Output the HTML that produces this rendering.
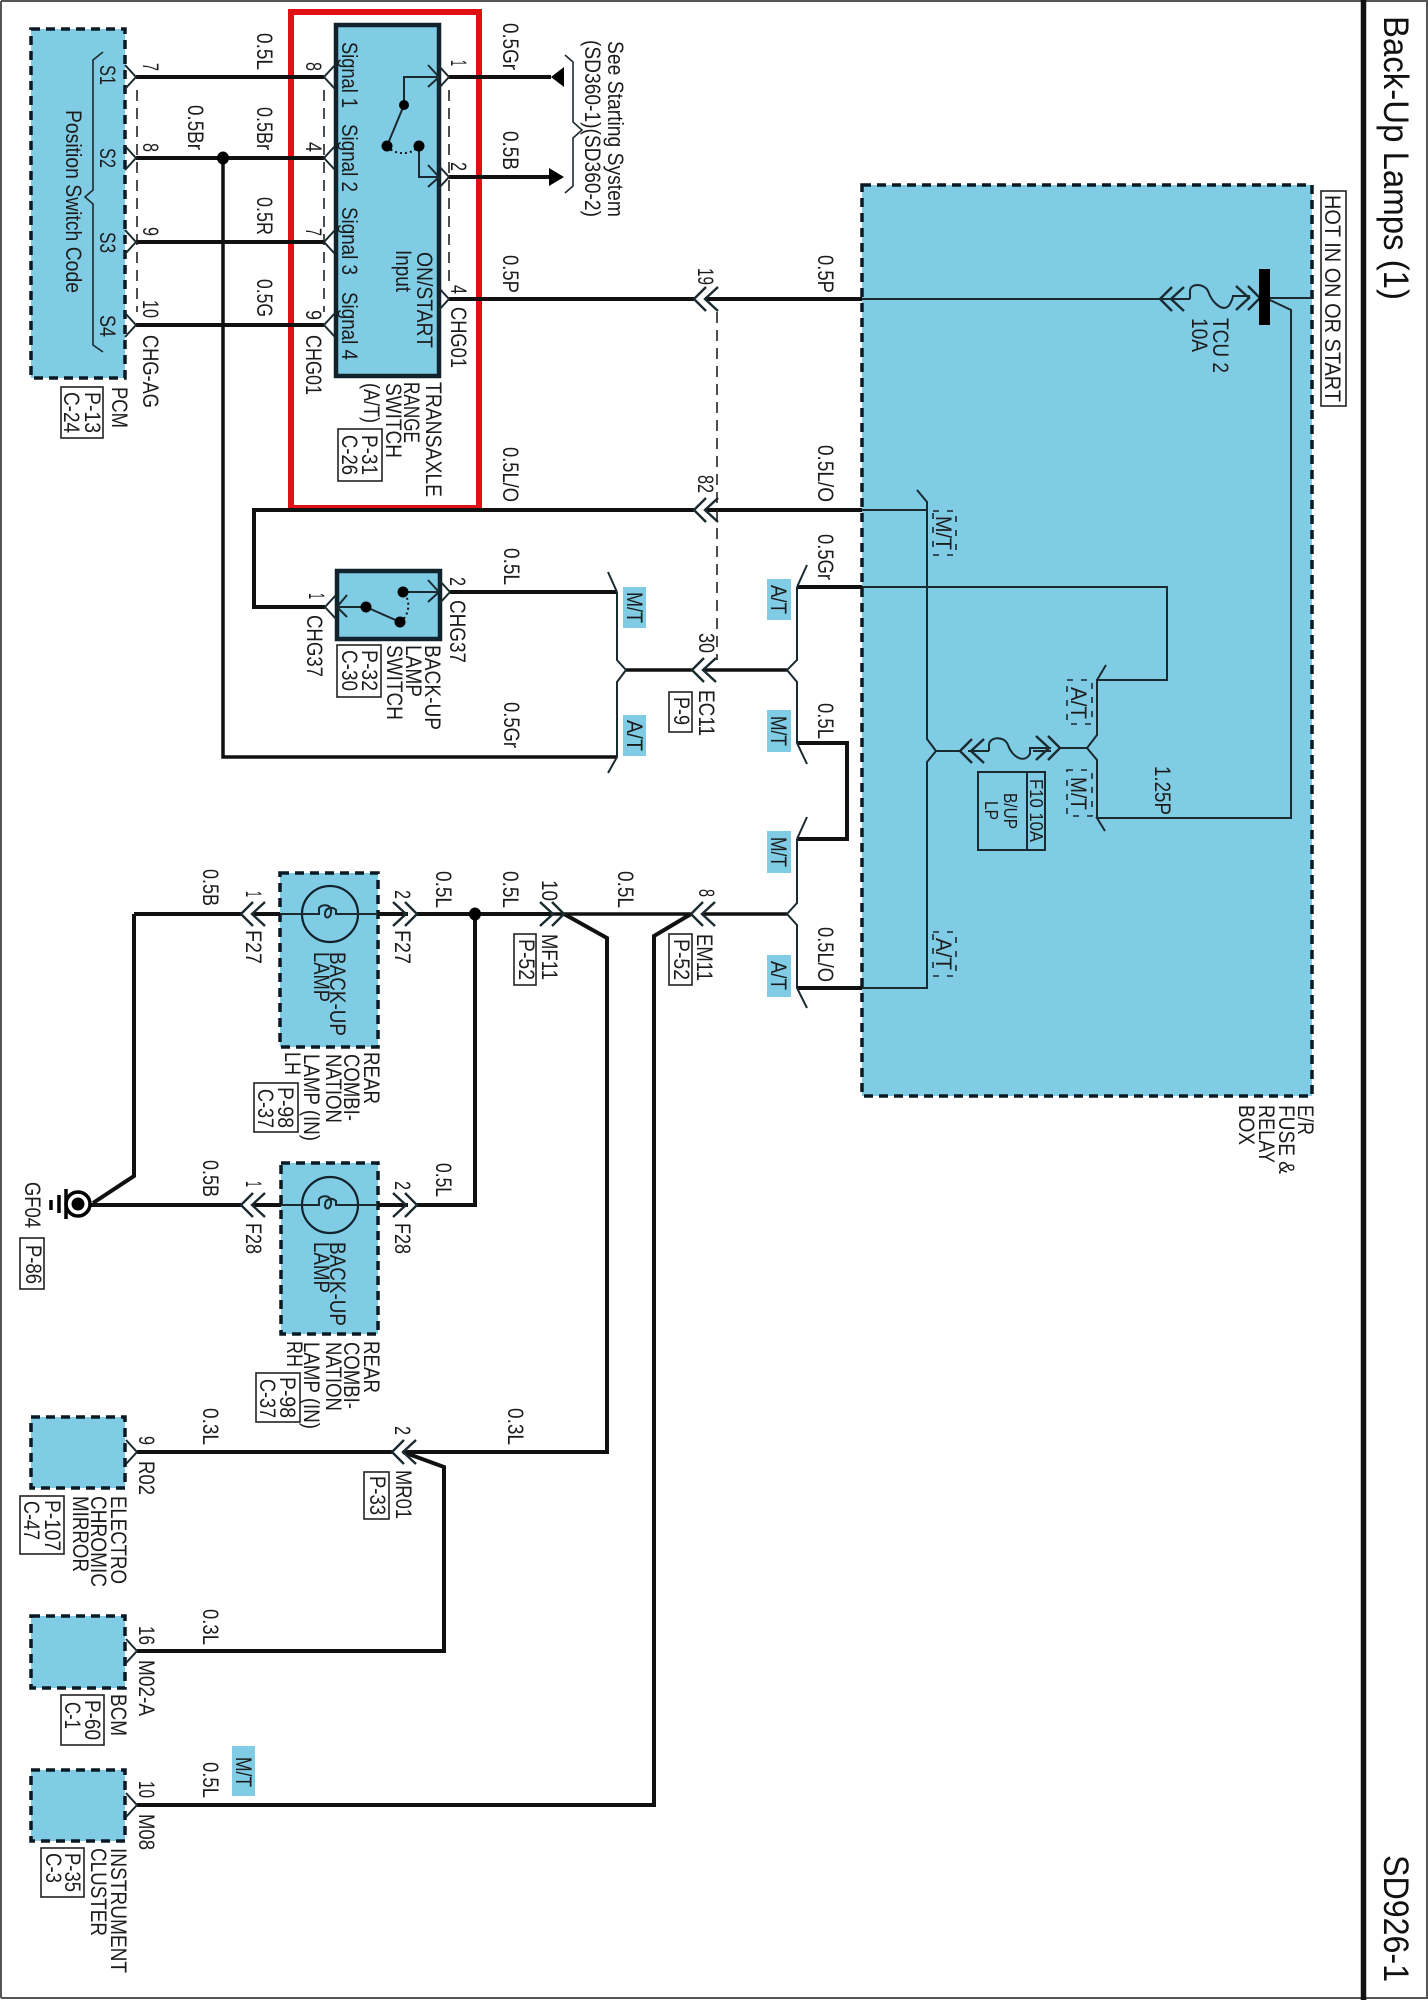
<!DOCTYPE html>
<html><head><meta charset="utf-8"><title>Back-Up Lamps (1)</title>
<style>html,body{margin:0;padding:0;background:#fff}svg{display:block}
text{font-family:"Liberation Sans",sans-serif;font-size:22px;fill:#1c1c1c}
.t{font-size:35px;fill:#111}
.b{fill:#80cce4;stroke:#0a1a24;stroke-width:3.5;stroke-dasharray:9 6}
.s{fill:#80cce4;stroke:#10222c;stroke-width:4.5}
.w{fill:none;stroke:#111;stroke-width:4;stroke-linejoin:miter}
.n{fill:none;stroke:#1a2a30;stroke-width:2}
.d{fill:none;stroke:#222;stroke-width:1.6;stroke-dasharray:11 7}
.r{fill:#fff;stroke:#222;stroke-width:1.6}
.l{fill:#80cce4}
.q{fill:none;stroke:#1a2a30;stroke-width:1.6;stroke-dasharray:6 8}
</style></head><body>
<svg xmlns="http://www.w3.org/2000/svg" width="1428" height="2000" viewBox="0 0 1428 2000">
<defs>
<path id="dl" class="n" style="stroke-width:2.4" d="M12-12L0 0L12 12M24-12L11 0L24 12"/>
<path id="dr" class="n" style="stroke-width:2.4" d="M-12-12L0 0L-12 12M-24-12L-11 0L-24 12"/>
<path id="cr" class="n" d="M-11-12L0 0L-11 12"/>
<path id="cl" class="n" d="M11-12L0 0L11 12"/>
</defs>
<rect width="1428" height="2000" fill="#fff"/>
<path d="M1 1H1427V1998H1" fill="none" stroke="#555" stroke-width="2"/><path d="M1 1V1998" stroke="#555" stroke-width="2"/>
<path d="M1363.500 0V2000" stroke="#111" stroke-width="5.500"/>

<!-- boxes -->
<rect class="b" x="862" y="185" width="450" height="911"/>
<rect class="b" x="31" y="29" width="94" height="349"/>
<rect class="b" x="280" y="873" width="98" height="174"/>
<rect class="b" x="281" y="1163" width="97" height="171"/>
<rect class="b" x="31" y="1417" width="94" height="71"/>
<rect class="b" x="31" y="1616" width="94" height="72"/>
<rect class="b" x="31" y="1770" width="94" height="71"/>
<rect class="s" x="336" y="25" width="103" height="351"/>
<rect class="s" x="337" y="571" width="103" height="68"/>
<rect x="291" y="12" width="188" height="496" fill="none" stroke="#e01015" stroke-width="6"/>

<!-- blue tags -->
<rect class="l" x="623" y="587" width="23" height="41"/><rect class="l" x="623" y="715" width="23" height="41"/>
<rect class="l" x="767" y="579" width="24" height="41"/><rect class="l" x="767" y="710" width="24" height="42"/>
<rect class="l" x="767" y="831" width="24" height="42"/><rect class="l" x="767" y="955" width="24" height="42"/>
<rect class="l" x="232" y="1746" width="23" height="50"/>

<!-- thick wires -->
<path class="w" d="M136 77H324M136 158H324M136 242H324M136 325H324"/>
<path class="w" d="M449 77H551M449 177H551M449 299H694M705 299H862"/>
<path class="w" style="stroke-width:3.5" d="M223 158V757H617"/>
<path class="w" d="M325 607H254V510H694M705 510H862"/>
<path class="w" d="M450 592H617"/>
<path class="w" style="stroke-width:3.5" d="M626 670H692M703 670H787"/>
<path class="w" d="M797 587H862M797 743H847V839H797M797 988H862"/>
<path class="w" style="stroke-width:3.5" d="M626 914H553M564 914H691M703 914H787"/>
<path class="w" d="M134 914H241M253 914H280M378 914H408M417 914H553"/>
<path class="w" d="M91 1205H241M253 1205H281M378 1205H408M417 1205H475V914"/>
<path class="w" d="M134 914V1176L93 1203"/>
<path class="w" d="M564 914L607 938V1452H403M392 1452H137"/>
<path class="w" d="M403 1452L444 1467V1651H137"/>
<path class="w" d="M691 914L654 936V1805H137"/>

<!-- thin wires -->
<path class="n" d="M862 299H1160M1270 298H1312M1270 300L1291 310V818H1097L1105 831M1097 818V760L1087 748H1060M1087 748L1097 735V680H1167V587H862M1097 680L1106 665"/>
<path class="n" d="M862 510H927V739L936 751H960M936 751L927 762V988H862M927 510V502L917 490"/>
<path class="n" d="M968 751H989M1033 751H1051"/>
<path class="n" d="M617 592L608 572M617 592V660L626 670L617 682V757L608 773"/>
<path class="n" d="M797 587L807 565M797 587V660L787 670L797 682V743L807 764M797 839L807 817M797 839V903L787 914L797 925V988L807 1008"/>
<path class="n" d="M1190 299V291C1190 283 1204 283 1208 291C1212 303 1224 314 1230 304C1233 298 1233 296 1233 296H1250"/>
<path class="n" d="M989 751V745C989 737 1004 735 1008 745C1012 757 1024 764 1030 754V748H1051"/>
<path class="n" d="M1160 299H1190"/>

<!-- connectors -->
<use href="#cr" x="136" y="77"/><use href="#cr" x="136" y="158"/><use href="#cr" x="136" y="242"/><use href="#cr" x="136" y="325"/>
<use href="#cl" x="324" y="77"/><use href="#cl" x="324" y="158"/><use href="#cl" x="324" y="242"/><use href="#cl" x="324" y="325"/>
<use href="#cr" x="449" y="77"/><use href="#cr" x="449" y="177"/><use href="#cr" x="449" y="299"/>
<use href="#dl" x="694" y="299"/><use href="#dl" x="694" y="510"/><use href="#dl" x="692" y="670"/><use href="#dl" x="691" y="914"/>
<use href="#dr" x="564" y="914"/><use href="#dr" x="417" y="914"/><use href="#dr" x="417" y="1205"/>
<use href="#dl" x="241" y="914"/><use href="#dl" x="241" y="1205"/><use href="#dl" x="392" y="1452"/>
<use href="#cl" x="325" y="607"/><use href="#cr" x="450" y="592"/>
<use href="#cr" x="137" y="1452"/><use href="#cr" x="137" y="1651"/><use href="#cr" x="137" y="1805"/>
<use href="#dl" x="1160" y="299"/><use href="#dr" x="1260" y="298"/>
<use href="#dl" x="960" y="751"/><use href="#dr" x="1060" y="748"/>

<!-- dashed links -->
<path class="d" d="M137 90V312M324 90V312M449 90V288M717 312V660"/>

<!-- bus bar -->
<rect x="1259" y="269" width="11" height="56" fill="#000"/>
<!-- fuse box -->
<rect x="978" y="772" width="67" height="78" fill="none" stroke="#1a2a30" stroke-width="2"/><path class="n" d="M1027 772V850"/>

<!-- arrows -->
<path d="M551 77L564 67V87Z" fill="#000"/><path d="M549 168V186L564 177Z" fill="#000"/>

<!-- junctions -->
<ellipse cx="223" cy="158" rx="6" ry="6.500"/><ellipse cx="475" cy="914" rx="6" ry="6.500"/>

<!-- switch internals -->
<path class="n" d="M439 77H404V105L387 146M419 146V177H439M428 65L439 77L428 87M428 165L439 177L428 187"/>
<path d="M387 146C395 156 412 155 419 146" fill="none" stroke="#111" stroke-width="2" stroke-dasharray="2 3"/>
<circle cx="404" cy="105" r="5"/><circle cx="387" cy="146" r="5.500"/><circle cx="419" cy="146" r="5.500"/>
<path class="n" d="M337 607H366L400 622M347 595L337 607L347 617M403 592H439M428 580L439 592L428 602"/>
<path d="M400 622C410 615 411 600 403 592" fill="none" stroke="#111" stroke-width="2" stroke-dasharray="2 3"/>
<circle cx="366" cy="607" r="5.500"/><circle cx="400" cy="622" r="5.500"/><circle cx="403" cy="592" r="5.500"/>

<!-- braces -->
<path class="n" style="stroke-width:1.6" d="M103 52L93 60V190L85 197L93 204V345L103 352"/>
<path class="n" style="stroke-width:1.6" d="M565 55L573 62V122L582 130L573 138V186L565 193"/>

<!-- lamps -->
<circle cx="330" cy="914" r="28" fill="none" stroke="#10222c" stroke-width="2.200"/>
<circle cx="330" cy="1205" r="28" fill="none" stroke="#10222c" stroke-width="2.200"/>
<path class="n" d="M280 914H319V908C322 904 330 904 331 910C332 918 325 920 325 914C325 908 332 906 336 910V914H378"/>
<path class="n" d="M281 1205H319V1199C322 1195 330 1195 331 1201C332 1209 325 1211 325 1205C325 1199 332 1197 336 1201V1205H378"/>

<!-- ground -->
<circle cx="78" cy="1204" r="12" fill="#fff" stroke="#000" stroke-width="3.500"/><circle cx="78" cy="1204" r="6.500"/>
<path d="M66 1189V1219M59 1195V1213M51 1200V1210" stroke="#000" stroke-width="3.500" fill="none"/>

<!-- ref boxes -->
<rect class="r" x="61" y="387" width="42" height="51"/><rect class="r" x="338" y="429" width="44" height="52"/>
<rect class="r" x="337" y="645" width="44" height="52"/><rect class="r" x="669" y="692" width="23" height="40"/>
<rect class="r" x="514" y="934" width="22" height="51"/><rect class="r" x="669" y="934" width="23" height="51"/>
<rect class="r" x="254" y="1083" width="44" height="49"/><rect class="r" x="256" y="1373" width="44" height="49"/>
<rect class="r" x="20" y="1238" width="24" height="51"/><rect class="r" x="364" y="1472" width="25" height="47"/>
<rect class="r" x="20" y="1496" width="44" height="58"/><rect class="r" x="61" y="1695" width="43" height="50"/>
<rect class="r" x="41" y="1848" width="43" height="49"/><rect class="r" x="1321" y="191" width="25" height="215"/>
<rect class="q" x="933" y="511" width="23" height="44"/><rect class="q" x="1067" y="680" width="25" height="44"/>
<rect class="q" x="1067" y="770" width="25" height="46"/><rect class="q" x="933" y="932" width="23" height="44"/>

<!-- text -->
<text class="t" transform="translate(1384 16) rotate(90)" textLength="284" lengthAdjust="spacingAndGlyphs">Back-Up Lamps (1)</text>
<text class="t" transform="translate(1384 1855) rotate(90)" textLength="127" lengthAdjust="spacingAndGlyphs">SD926-1</text>
<text transform="translate(100 65) rotate(90)" textLength="20" lengthAdjust="spacingAndGlyphs">S1</text>
<text transform="translate(100 148) rotate(90)" textLength="20" lengthAdjust="spacingAndGlyphs">S2</text>
<text transform="translate(100 232) rotate(90)" textLength="21" lengthAdjust="spacingAndGlyphs">S3</text>
<text transform="translate(100 315) rotate(90)" textLength="22" lengthAdjust="spacingAndGlyphs">S4</text>
<text transform="translate(66 110) rotate(90)" textLength="183" lengthAdjust="spacingAndGlyphs">Position Switch Code</text>
<text transform="translate(143 63) rotate(90)" textLength="8" lengthAdjust="spacingAndGlyphs">7</text>
<text transform="translate(143 143) rotate(90)" textLength="9" lengthAdjust="spacingAndGlyphs">8</text>
<text transform="translate(143 227) rotate(90)" textLength="9" lengthAdjust="spacingAndGlyphs">9</text>
<text transform="translate(143 300) rotate(90)" textLength="18" lengthAdjust="spacingAndGlyphs">10</text>
<text transform="translate(143 335) rotate(90)" textLength="73" lengthAdjust="spacingAndGlyphs">CHG-AG</text>
<text transform="translate(306 62) rotate(90)" textLength="9" lengthAdjust="spacingAndGlyphs">8</text>
<text transform="translate(306 142) rotate(90)" textLength="10" lengthAdjust="spacingAndGlyphs">4</text>
<text transform="translate(306 228) rotate(90)" textLength="8" lengthAdjust="spacingAndGlyphs">7</text>
<text transform="translate(306 310) rotate(90)" textLength="10" lengthAdjust="spacingAndGlyphs">9</text>
<text transform="translate(306 335) rotate(90)" textLength="60" lengthAdjust="spacingAndGlyphs">CHG01</text>
<text transform="translate(257 33) rotate(90)" textLength="37" lengthAdjust="spacingAndGlyphs">0.5L</text>
<text transform="translate(257 107) rotate(90)" textLength="43" lengthAdjust="spacingAndGlyphs">0.5Br</text>
<text transform="translate(257 197) rotate(90)" textLength="38" lengthAdjust="spacingAndGlyphs">0.5R</text>
<text transform="translate(257 279) rotate(90)" textLength="38" lengthAdjust="spacingAndGlyphs">0.5G</text>
<text transform="translate(188 105) rotate(90)" textLength="45" lengthAdjust="spacingAndGlyphs">0.5Br</text>
<text transform="translate(342 42) rotate(90)" textLength="66" lengthAdjust="spacingAndGlyphs">Signal 1</text>
<text transform="translate(342 124) rotate(90)" textLength="68" lengthAdjust="spacingAndGlyphs">Signal 2</text>
<text transform="translate(342 207) rotate(90)" textLength="68" lengthAdjust="spacingAndGlyphs">Signal 3</text>
<text transform="translate(342 292) rotate(90)" textLength="68" lengthAdjust="spacingAndGlyphs">Signal 4</text>
<text transform="translate(417 252) rotate(90)" textLength="96" lengthAdjust="spacingAndGlyphs">ON/START</text>
<text transform="translate(396 250) rotate(90)" textLength="42" lengthAdjust="spacingAndGlyphs">Input</text>
<text transform="translate(451 60) rotate(90)" textLength="6" lengthAdjust="spacingAndGlyphs">1</text>
<text transform="translate(451 162) rotate(90)" textLength="9" lengthAdjust="spacingAndGlyphs">2</text>
<text transform="translate(451 285) rotate(90)" textLength="9" lengthAdjust="spacingAndGlyphs">4</text>
<text transform="translate(451 307) rotate(90)" textLength="61" lengthAdjust="spacingAndGlyphs">CHG01</text>
<text transform="translate(503 23) rotate(90)" textLength="47" lengthAdjust="spacingAndGlyphs">0.5Gr</text>
<text transform="translate(503 131) rotate(90)" textLength="39" lengthAdjust="spacingAndGlyphs">0.5B</text>
<text transform="translate(503 255) rotate(90)" textLength="38" lengthAdjust="spacingAndGlyphs">0.5P</text>
<text transform="translate(503 447) rotate(90)" textLength="55" lengthAdjust="spacingAndGlyphs">0.5L/O</text>
<text transform="translate(608 41) rotate(90)" textLength="176" lengthAdjust="spacingAndGlyphs">See Starting System</text>
<text transform="translate(585 40) rotate(90)" textLength="177" lengthAdjust="spacingAndGlyphs">(SD360-1)(SD360-2)</text>
<text transform="translate(112 387) rotate(90)" textLength="41" lengthAdjust="spacingAndGlyphs">PCM</text>
<text transform="translate(85 392) rotate(90)" textLength="41" lengthAdjust="spacingAndGlyphs">P-13</text>
<text transform="translate(64 392) rotate(90)" textLength="41" lengthAdjust="spacingAndGlyphs">C-24</text>
<text transform="translate(426 382) rotate(90)" textLength="115" lengthAdjust="spacingAndGlyphs">TRANSAXLE</text>
<text transform="translate(404 382) rotate(90)" textLength="61" lengthAdjust="spacingAndGlyphs">RANGE</text>
<text transform="translate(386 383) rotate(90)" textLength="75" lengthAdjust="spacingAndGlyphs">SWITCH</text>
<text transform="translate(364 383) rotate(90)" textLength="40" lengthAdjust="spacingAndGlyphs">(A/T)</text>
<text transform="translate(362 435) rotate(90)" textLength="40" lengthAdjust="spacingAndGlyphs">P-31</text>
<text transform="translate(342 435) rotate(90)" textLength="40" lengthAdjust="spacingAndGlyphs">C-26</text>
<text transform="translate(425 645) rotate(90)" textLength="85" lengthAdjust="spacingAndGlyphs">BACK-UP</text>
<text transform="translate(406 645) rotate(90)" textLength="52" lengthAdjust="spacingAndGlyphs">LAMP</text>
<text transform="translate(387 645) rotate(90)" textLength="75" lengthAdjust="spacingAndGlyphs">SWITCH</text>
<text transform="translate(362 650) rotate(90)" textLength="41" lengthAdjust="spacingAndGlyphs">P-32</text>
<text transform="translate(342 650) rotate(90)" textLength="41" lengthAdjust="spacingAndGlyphs">C-30</text>
<text transform="translate(309 593) rotate(90)" textLength="6" lengthAdjust="spacingAndGlyphs">1</text>
<text transform="translate(307 615) rotate(90)" textLength="62" lengthAdjust="spacingAndGlyphs">CHG37</text>
<text transform="translate(450 577) rotate(90)" textLength="9" lengthAdjust="spacingAndGlyphs">2</text>
<text transform="translate(450 600) rotate(90)" textLength="63" lengthAdjust="spacingAndGlyphs">CHG37</text>
<text transform="translate(504 548) rotate(90)" textLength="37" lengthAdjust="spacingAndGlyphs">0.5L</text>
<text transform="translate(504 702) rotate(90)" textLength="46" lengthAdjust="spacingAndGlyphs">0.5Gr</text>
<text transform="translate(698 268) rotate(90)" textLength="17" lengthAdjust="spacingAndGlyphs">19</text>
<text transform="translate(698 475) rotate(90)" textLength="18" lengthAdjust="spacingAndGlyphs">82</text>
<text transform="translate(699 633) rotate(90)" textLength="20" lengthAdjust="spacingAndGlyphs">30</text>
<text transform="translate(699 690) rotate(90)" textLength="46" lengthAdjust="spacingAndGlyphs">EC11</text>
<text transform="translate(674 697) rotate(90)" textLength="28" lengthAdjust="spacingAndGlyphs">P-9</text>
<text transform="translate(627 592) rotate(90)" textLength="31" lengthAdjust="spacingAndGlyphs">M/T</text>
<text transform="translate(627 720) rotate(90)" textLength="31" lengthAdjust="spacingAndGlyphs">A/T</text>
<text transform="translate(771 585) rotate(90)" textLength="29" lengthAdjust="spacingAndGlyphs">A/T</text>
<text transform="translate(771 716) rotate(90)" textLength="30" lengthAdjust="spacingAndGlyphs">M/T</text>
<text transform="translate(771 837) rotate(90)" textLength="30" lengthAdjust="spacingAndGlyphs">M/T</text>
<text transform="translate(771 961) rotate(90)" textLength="29" lengthAdjust="spacingAndGlyphs">A/T</text>
<text transform="translate(818 255) rotate(90)" textLength="38" lengthAdjust="spacingAndGlyphs">0.5P</text>
<text transform="translate(818 445) rotate(90)" textLength="57" lengthAdjust="spacingAndGlyphs">0.5L/O</text>
<text transform="translate(818 534) rotate(90)" textLength="46" lengthAdjust="spacingAndGlyphs">0.5Gr</text>
<text transform="translate(818 703) rotate(90)" textLength="36" lengthAdjust="spacingAndGlyphs">0.5L</text>
<text transform="translate(818 927) rotate(90)" textLength="55" lengthAdjust="spacingAndGlyphs">0.5L/O</text>
<text transform="translate(936 516) rotate(90)" textLength="34" lengthAdjust="spacingAndGlyphs">M/T</text>
<text transform="translate(1071 687) rotate(90)" textLength="32" lengthAdjust="spacingAndGlyphs">A/T</text>
<text transform="translate(1071 777) rotate(90)" textLength="33" lengthAdjust="spacingAndGlyphs">M/T</text>
<text transform="translate(936 938) rotate(90)" textLength="32" lengthAdjust="spacingAndGlyphs">A/T</text>
<text transform="translate(1155 766) rotate(90)" textLength="49" lengthAdjust="spacingAndGlyphs">1.25P</text>
<text transform="translate(1030 779) rotate(90)" style="font-size:18px" textLength="63" lengthAdjust="spacingAndGlyphs">F10 10A</text>
<text transform="translate(1004 793) rotate(90)" style="font-size:18px" textLength="36" lengthAdjust="spacingAndGlyphs">B/UP</text>
<text transform="translate(985 801) rotate(90)" style="font-size:18px" textLength="19" lengthAdjust="spacingAndGlyphs">LP</text>
<text transform="translate(1213 318) rotate(90)" textLength="55" lengthAdjust="spacingAndGlyphs">TCU 2</text>
<text transform="translate(1192 318) rotate(90)" textLength="34" lengthAdjust="spacingAndGlyphs">10A</text>
<text transform="translate(1325 195) rotate(90)" textLength="207" lengthAdjust="spacingAndGlyphs">HOT IN ON OR START</text>
<text transform="translate(1298 1105) rotate(90)" textLength="30" lengthAdjust="spacingAndGlyphs">E/R</text>
<text transform="translate(1279 1105) rotate(90)" textLength="69" lengthAdjust="spacingAndGlyphs">FUSE &amp;</text>
<text transform="translate(1259 1105) rotate(90)" textLength="58" lengthAdjust="spacingAndGlyphs">RELAY</text>
<text transform="translate(1239 1105) rotate(90)" textLength="40" lengthAdjust="spacingAndGlyphs">BOX</text>
<text transform="translate(203 869) rotate(90)" textLength="37" lengthAdjust="spacingAndGlyphs">0.5B</text>
<text transform="translate(246 891) rotate(90)" textLength="6" lengthAdjust="spacingAndGlyphs">1</text>
<text transform="translate(246 930) rotate(90)" textLength="34" lengthAdjust="spacingAndGlyphs">F27</text>
<text transform="translate(395 890) rotate(90)" textLength="9" lengthAdjust="spacingAndGlyphs">2</text>
<text transform="translate(395 930) rotate(90)" textLength="34" lengthAdjust="spacingAndGlyphs">F27</text>
<text transform="translate(436 871) rotate(90)" textLength="37" lengthAdjust="spacingAndGlyphs">0.5L</text>
<text transform="translate(503 871) rotate(90)" textLength="37" lengthAdjust="spacingAndGlyphs">0.5L</text>
<text transform="translate(542 880) rotate(90)" textLength="21" lengthAdjust="spacingAndGlyphs">10</text>
<text transform="translate(542 934) rotate(90)" textLength="46" lengthAdjust="spacingAndGlyphs">MF11</text>
<text transform="translate(519 939) rotate(90)" textLength="41" lengthAdjust="spacingAndGlyphs">P-52</text>
<text transform="translate(618 871) rotate(90)" textLength="37" lengthAdjust="spacingAndGlyphs">0.5L</text>
<text transform="translate(699 889) rotate(90)" textLength="8" lengthAdjust="spacingAndGlyphs">8</text>
<text transform="translate(697 934) rotate(90)" textLength="47" lengthAdjust="spacingAndGlyphs">EM11</text>
<text transform="translate(674 939) rotate(90)" textLength="41" lengthAdjust="spacingAndGlyphs">P-52</text>
<text transform="translate(330 952) rotate(90)" textLength="84" lengthAdjust="spacingAndGlyphs">BACK-UP</text>
<text transform="translate(314 952) rotate(90)" textLength="50" lengthAdjust="spacingAndGlyphs">LAMP</text>
<text transform="translate(364 1052) rotate(90)" textLength="52" lengthAdjust="spacingAndGlyphs">REAR</text>
<text transform="translate(344 1054) rotate(90)" textLength="67" lengthAdjust="spacingAndGlyphs">COMBI-</text>
<text transform="translate(326 1054) rotate(90)" textLength="69" lengthAdjust="spacingAndGlyphs">NATION</text>
<text transform="translate(304 1054) rotate(90)" textLength="87" lengthAdjust="spacingAndGlyphs">LAMP (IN)</text>
<text transform="translate(285 1052) rotate(90)" textLength="23" lengthAdjust="spacingAndGlyphs">LH</text>
<text transform="translate(278 1087) rotate(90)" textLength="41" lengthAdjust="spacingAndGlyphs">P-98</text>
<text transform="translate(258 1089) rotate(90)" textLength="39" lengthAdjust="spacingAndGlyphs">C-37</text>
<text transform="translate(203 1160) rotate(90)" textLength="37" lengthAdjust="spacingAndGlyphs">0.5B</text>
<text transform="translate(246 1181) rotate(90)" textLength="6" lengthAdjust="spacingAndGlyphs">1</text>
<text transform="translate(246 1223) rotate(90)" textLength="31" lengthAdjust="spacingAndGlyphs">F28</text>
<text transform="translate(395 1181) rotate(90)" textLength="9" lengthAdjust="spacingAndGlyphs">2</text>
<text transform="translate(395 1223) rotate(90)" textLength="31" lengthAdjust="spacingAndGlyphs">F28</text>
<text transform="translate(436 1163) rotate(90)" textLength="34" lengthAdjust="spacingAndGlyphs">0.5L</text>
<text transform="translate(330 1242) rotate(90)" textLength="84" lengthAdjust="spacingAndGlyphs">BACK-UP</text>
<text transform="translate(314 1242) rotate(90)" textLength="51" lengthAdjust="spacingAndGlyphs">LAMP</text>
<text transform="translate(364 1341) rotate(90)" textLength="52" lengthAdjust="spacingAndGlyphs">REAR</text>
<text transform="translate(344 1342) rotate(90)" textLength="67" lengthAdjust="spacingAndGlyphs">COMBI-</text>
<text transform="translate(326 1342) rotate(90)" textLength="69" lengthAdjust="spacingAndGlyphs">NATION</text>
<text transform="translate(304 1342) rotate(90)" textLength="87" lengthAdjust="spacingAndGlyphs">LAMP (IN)</text>
<text transform="translate(287 1341) rotate(90)" textLength="26" lengthAdjust="spacingAndGlyphs">RH</text>
<text transform="translate(280 1377) rotate(90)" textLength="41" lengthAdjust="spacingAndGlyphs">P-98</text>
<text transform="translate(260 1379) rotate(90)" textLength="39" lengthAdjust="spacingAndGlyphs">C-37</text>
<text transform="translate(25 1182) rotate(90)" textLength="46" lengthAdjust="spacingAndGlyphs">GF04</text>
<text transform="translate(26 1245) rotate(90)" textLength="39" lengthAdjust="spacingAndGlyphs">P-86</text>
<text transform="translate(203 1408) rotate(90)" textLength="37" lengthAdjust="spacingAndGlyphs">0.3L</text>
<text transform="translate(508 1408) rotate(90)" textLength="37" lengthAdjust="spacingAndGlyphs">0.3L</text>
<text transform="translate(395 1426) rotate(90)" textLength="9" lengthAdjust="spacingAndGlyphs">2</text>
<text transform="translate(139 1436) rotate(90)" textLength="9" lengthAdjust="spacingAndGlyphs">9</text>
<text transform="translate(139 1461) rotate(90)" textLength="34" lengthAdjust="spacingAndGlyphs">R02</text>
<text transform="translate(396 1470) rotate(90)" textLength="49" lengthAdjust="spacingAndGlyphs">MR01</text>
<text transform="translate(370 1476) rotate(90)" textLength="39" lengthAdjust="spacingAndGlyphs">P-33</text>
<text transform="translate(111 1496) rotate(90)" textLength="88" lengthAdjust="spacingAndGlyphs">ELECTRO</text>
<text transform="translate(91 1496) rotate(90)" textLength="91" lengthAdjust="spacingAndGlyphs">CHROMIC</text>
<text transform="translate(73 1496) rotate(90)" textLength="76" lengthAdjust="spacingAndGlyphs">MIRROR</text>
<text transform="translate(45 1500) rotate(90)" textLength="51" lengthAdjust="spacingAndGlyphs">P-107</text>
<text transform="translate(24 1501) rotate(90)" textLength="39" lengthAdjust="spacingAndGlyphs">C-47</text>
<text transform="translate(203 1609) rotate(90)" textLength="36" lengthAdjust="spacingAndGlyphs">0.3L</text>
<text transform="translate(139 1626) rotate(90)" textLength="19" lengthAdjust="spacingAndGlyphs">16</text>
<text transform="translate(139 1660) rotate(90)" textLength="56" lengthAdjust="spacingAndGlyphs">M02-A</text>
<text transform="translate(111 1694) rotate(90)" textLength="42" lengthAdjust="spacingAndGlyphs">BCM</text>
<text transform="translate(85 1700) rotate(90)" textLength="40" lengthAdjust="spacingAndGlyphs">P-60</text>
<text transform="translate(65 1702) rotate(90)" textLength="27" lengthAdjust="spacingAndGlyphs">C-1</text>
<text transform="translate(236 1757) rotate(90)" textLength="30" lengthAdjust="spacingAndGlyphs">M/T</text>
<text transform="translate(203 1762) rotate(90)" textLength="36" lengthAdjust="spacingAndGlyphs">0.5L</text>
<text transform="translate(139 1781) rotate(90)" textLength="17" lengthAdjust="spacingAndGlyphs">10</text>
<text transform="translate(139 1814) rotate(90)" textLength="36" lengthAdjust="spacingAndGlyphs">M08</text>
<text transform="translate(111 1848) rotate(90)" textLength="125" lengthAdjust="spacingAndGlyphs">INSTRUMENT</text>
<text transform="translate(91 1848) rotate(90)" textLength="88" lengthAdjust="spacingAndGlyphs">CLUSTER</text>
<text transform="translate(65 1853) rotate(90)" textLength="39" lengthAdjust="spacingAndGlyphs">P-35</text>
<text transform="translate(46 1853) rotate(90)" textLength="30" lengthAdjust="spacingAndGlyphs">C-3</text>
</svg>
</body></html>
